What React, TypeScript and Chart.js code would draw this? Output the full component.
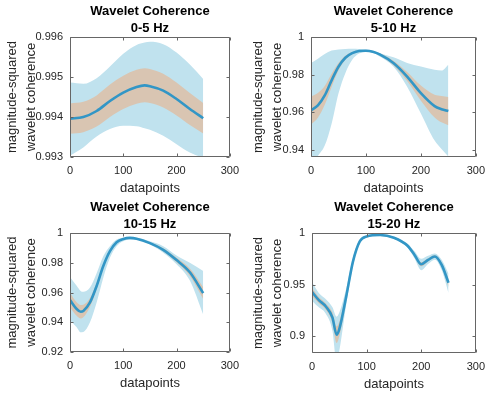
import React, { useEffect, useRef } from 'react';
import { Chart, registerables } from 'chart.js';

Chart.register(...registerables);

// ---------- shared axis data ----------
const xTicks = [0, 100, 200, 300];
const xTickLabels = ['0', '100', '200', '300'];
const xLabel = 'datapoints';
const yLabel = ['magnitude-squared', 'wavelet coherence'];

// ---------- panel 1: 0-5 Hz ----------
const title1 = ['Wavelet Coherence', '0-5 Hz'];
const xs1 = [0, 25, 50, 75, 100, 125, 140, 150, 175, 200, 225, 250];
const mean1 = [0.99396, 0.994, 0.99415, 0.9944, 0.99461, 0.99475, 0.99479, 0.99477, 0.99466, 0.99445, 0.9942, 0.99397];
const seUp1 = [0.99434, 0.99438, 0.99454, 0.99481, 0.99503, 0.99518, 0.99522, 0.9952, 0.99508, 0.99486, 0.9946, 0.99435];
const seLo1 = [0.99358, 0.99362, 0.99376, 0.994, 0.9942, 0.99433, 0.99437, 0.99435, 0.99424, 0.99404, 0.9938, 0.99359];
const sdUp1 = [0.99486, 0.99483, 0.99497, 0.99526, 0.99558, 0.9958, 0.99586, 0.99588, 0.99582, 0.99561, 0.99531, 0.99495];
const sdLo1 = [0.99303, 0.99324, 0.99351, 0.9937, 0.99378, 0.99377, 0.99372, 0.99368, 0.99353, 0.99332, 0.99311, 0.99298];
const yTicks1 = [0.993, 0.994, 0.995, 0.996];
const yTickLabels1 = ['0.993', '0.994', '0.995', '0.996'];
const yRange1 = [0.993, 0.996];

// ---------- panel 2: 5-10 Hz ----------
const title2 = ['Wavelet Coherence', '5-10 Hz'];
const xs2 = [0, 12.5, 25, 37.5, 50, 62.5, 75, 87.5, 100, 112.5, 125, 150, 175, 200, 225, 237.5, 250];
const mean2 = [0.961, 0.9637, 0.969, 0.977, 0.9842, 0.989, 0.9914, 0.9926, 0.9927, 0.9922, 0.9908, 0.9862, 0.979, 0.9702, 0.9633, 0.9617, 0.9607];
const seUp2 = [0.9685, 0.9703, 0.974, 0.9805, 0.9862, 0.9901, 0.992, 0.993, 0.9931, 0.9926, 0.9914, 0.9874, 0.9814, 0.9742, 0.9693, 0.9687, 0.9682];
const seLo2 = [0.9535, 0.9571, 0.964, 0.9735, 0.9822, 0.9879, 0.9908, 0.9922, 0.9923, 0.9918, 0.9902, 0.985, 0.9766, 0.9662, 0.9573, 0.9547, 0.9532];
const sdUp2 = [0.9862, 0.9885, 0.991, 0.9928, 0.9934, 0.9936, 0.9937, 0.9936, 0.9933, 0.9926, 0.9914, 0.9892, 0.9862, 0.9843, 0.9826, 0.9822, 0.9853];
const sdLo2 = [0.93, 0.9368, 0.9424, 0.954, 0.97, 0.9808, 0.9879, 0.9912, 0.9921, 0.9917, 0.9897, 0.9843, 0.9736, 0.9594, 0.945, 0.9405, 0.9365];
const yTicks2 = [0.94, 0.96, 0.98, 1];
const yTickLabels2 = ['0.94', '0.96', '0.98', '1'];
const yRange2 = [0.9363, 1];

// ---------- panel 3: 10-15 Hz ----------
const title3 = ['Wavelet Coherence', '10-15 Hz'];
const xs3 = [0, 12.5, 20, 25, 37.5, 50, 62.5, 75, 87.5, 100, 112.5, 125, 150, 175, 200, 225, 250];
const mean3 = [0.9549, 0.9489, 0.9471, 0.9476, 0.9533, 0.9644, 0.9778, 0.9878, 0.9938, 0.996, 0.9967, 0.9962, 0.9932, 0.9887, 0.9818, 0.9736, 0.9596];
const seUp3 = [0.9599, 0.9534, 0.9516, 0.9518, 0.9563, 0.9664, 0.979, 0.9886, 0.9943, 0.9964, 0.9971, 0.9966, 0.9938, 0.9897, 0.9833, 0.9761, 0.9636];
const seLo3 = [0.9499, 0.9444, 0.9426, 0.9434, 0.9503, 0.9624, 0.9766, 0.987, 0.9933, 0.9956, 0.9963, 0.9958, 0.9926, 0.9877, 0.9803, 0.9711, 0.9556];
const sdUp3 = [0.9704, 0.9645, 0.961, 0.9605, 0.9633, 0.9729, 0.9844, 0.9911, 0.9956, 0.9966, 0.9969, 0.9968, 0.9944, 0.9911, 0.9849, 0.98, 0.9744];
const sdLo3 = [0.9411, 0.9367, 0.9333, 0.9335, 0.94, 0.9533, 0.97, 0.9833, 0.9911, 0.9944, 0.9956, 0.9956, 0.9922, 0.9867, 0.979, 0.968, 0.9452];
const yTicks3 = [0.92, 0.94, 0.96, 0.98, 1];
const yTickLabels3 = ['0.92', '0.94', '0.96', '0.98', '1'];
const yRange3 = [0.92, 1];

// ---------- panel 4: 15-20 Hz ----------
const title4 = ['Wavelet Coherence', '15-20 Hz'];
const xs4 = [0, 12.5, 25, 37.5, 45, 50, 62.5, 75, 87.5, 100, 125, 150, 175, 187.5, 200, 212.5, 225, 237.5, 250];
const mean4 = [0.943, 0.935, 0.929, 0.918, 0.9015, 0.907, 0.9381, 0.9723, 0.9919, 0.9967, 0.998, 0.9954, 0.9876, 0.979, 0.9697, 0.9739, 0.9772, 0.9691, 0.9518];
const seUp4 = [0.947, 0.938, 0.932, 0.923, 0.9095, 0.914, 0.9421, 0.9743, 0.9929, 0.9972, 0.9984, 0.9959, 0.9886, 0.9805, 0.9717, 0.9754, 0.9784, 0.9711, 0.9558];
const seLo4 = [0.939, 0.932, 0.926, 0.913, 0.8935, 0.9, 0.9341, 0.9703, 0.9909, 0.9962, 0.9976, 0.9949, 0.9866, 0.9775, 0.9677, 0.9724, 0.976, 0.9671, 0.9478];
const sdUp4 = [0.9525, 0.942, 0.936, 0.928, 0.919, 0.923, 0.946, 0.9763, 0.9939, 0.9977, 0.9988, 0.9964, 0.9896, 0.9825, 0.975, 0.9779, 0.9802, 0.9741, 0.9605];
const sdLo4 = [0.9345, 0.928, 0.922, 0.905, 0.875, 0.886, 0.9301, 0.9683, 0.9899, 0.9957, 0.9972, 0.9944, 0.9856, 0.9755, 0.964, 0.9699, 0.9742, 0.9641, 0.942];
const yTicks4 = [0.9, 0.95, 1];
const yTickLabels4 = ['0.9', '0.95', '1'];
const yRange4 = [0.8838, 1];

// ---------- styles ----------
const FONT = "'Liberation Sans', Arial, Helvetica, sans-serif";
const TEXT = '#262626';
const AXIS = '#666666';
const LINE = 'rgb(50,150,198)';
const BLUE = 'rgb(192,226,238)';
const TAN = 'rgb(217,197,178)';

type PanelData = {
  title: string[]; xs: number[]; mean: number[]; seUp: number[]; seLo: number[];
  sdUp: number[]; sdLo: number[]; yTicks: number[]; yTickLabels: string[]; yRange: number[];
};
type Layout = { left: number; top: number; w: number; h: number; boxL: number; boxT: number; boxR: number; boxB: number };

const panels: { d: PanelData; l: Layout }[] = [
  { d: { title: title1, xs: xs1, mean: mean1, seUp: seUp1, seLo: seLo1, sdUp: sdUp1, sdLo: sdLo1, yTicks: yTicks1, yTickLabels: yTickLabels1, yRange: yRange1 },
    l: { left: 0, top: 0, w: 246, h: 197, boxL: 70, boxT: 37, boxR: 235, boxB: 157 } },
  { d: { title: title2, xs: xs2, mean: mean2, seUp: seUp2, seLo: seLo2, sdUp: sdUp2, sdLo: sdLo2, yTicks: yTicks2, yTickLabels: yTickLabels2, yRange: yRange2 },
    l: { left: 246, top: 0, w: 246, h: 197, boxL: 65, boxT: 37, boxR: 230, boxB: 157 } },
  { d: { title: title3, xs: xs3, mean: mean3, seUp: seUp3, seLo: seLo3, sdUp: sdUp3, sdLo: sdLo3, yTicks: yTicks3, yTickLabels: yTickLabels3, yRange: yRange3 },
    l: { left: 0, top: 197, w: 246, h: 200, boxL: 70, boxT: 36, boxR: 235, boxB: 155 } },
  { d: { title: title4, xs: xs4, mean: mean4, seUp: seUp4, seLo: seLo4, sdUp: sdUp4, sdLo: sdLo4, yTicks: yTicks4, yTickLabels: yTickLabels4, yRange: yRange4 },
    l: { left: 246, top: 197, w: 246, h: 200, boxL: 66, boxT: 36, boxR: 230, boxB: 156 } },
];

const X_AXIS_H = 40;

const framePlugin = {
  id: 'frame',
  afterDraw(chart: any, _args: any, opts: any) {
    const { ctx, chartArea: a, scales } = chart;
    ctx.save();
    ctx.strokeStyle = AXIS;
    ctx.lineWidth = 1;
    const L = Math.round(a.left) + 0.5;
    const R = Math.round(a.right) - 0.5;
    const T = Math.round(a.top) + 0.5;
    const B = Math.round(a.bottom) - 0.5;
    ctx.beginPath();
    ctx.rect(L, T, R - L, B - T);
    ctx.stroke();
    const tl = 3;
    ctx.beginPath();
    scales.x.ticks.forEach((t: any) => {
      const px = Math.round(scales.x.getPixelForValue(t.value)) + 0.5;
      ctx.moveTo(px, B); ctx.lineTo(px, B - tl);
      ctx.moveTo(px, T); ctx.lineTo(px, T + tl);
    });
    scales.y.ticks.forEach((t: any) => {
      const py = Math.round(scales.y.getPixelForValue(t.value)) + 0.5;
      ctx.moveTo(L, py); ctx.lineTo(L + tl, py);
      ctx.moveTo(R, py); ctx.lineTo(R - tl, py);
    });
    ctx.stroke();
    ctx.fillStyle = '#000';
    ctx.font = `bold 13px ${FONT}`;
    ctx.textAlign = 'center';
    ctx.textBaseline = 'middle';
    const cx = (a.left + a.right) / 2;
    ctx.fillText(opts.lines[0], cx, a.top - 25.3);
    ctx.fillText(opts.lines[1], cx, a.top - 8.7);
    ctx.restore();
  },
};

function makeConfig(d: PanelData, l: Layout): any {
  const pts = (ys: number[]) => d.xs.map((x, i) => ({ x, y: ys[i] }));
  const band = (ys: number[], fill: any, color: string) => ({
    data: pts(ys), borderColor: 'rgba(0,0,0,0)', borderWidth: 0, pointRadius: 0,
    fill, backgroundColor: color, cubicInterpolationMode: 'monotone',
  });
  return {
    type: 'line',
    data: {
      datasets: [
        { data: pts(d.mean), borderColor: LINE, borderWidth: 2.6, pointRadius: 0, fill: false, cubicInterpolationMode: 'monotone' },
        band(d.seUp, '+1', TAN),
        band(d.seLo, false, TAN),
        band(d.sdUp, '+1', BLUE),
        band(d.sdLo, false, BLUE),
      ],
    },
    plugins: [framePlugin],
    options: {
      responsive: false,
      animation: false,
      events: [],
      layout: { padding: { left: 0, top: l.boxT, right: l.w - l.boxR, bottom: l.h - l.boxB - X_AXIS_H } },
      plugins: {
        legend: { display: false },
        tooltip: { enabled: false },
        frame: { lines: d.title },
      },
      scales: {
        x: {
          type: 'linear', min: 0, max: 300,
          afterBuildTicks: (s: any) => { s.ticks = xTicks.map((v) => ({ value: v })); },
          afterFit: (s: any) => { s.height = X_AXIS_H; },
          grid: { display: false, drawTicks: false },
          border: { display: false },
          ticks: {
            font: { family: FONT, size: 11 }, color: TEXT, padding: 7, maxRotation: 0, autoSkip: false,
            callback: (v: any) => xTickLabels[xTicks.indexOf(v)] ?? '',
          },
          title: { display: true, text: xLabel, color: TEXT, font: { family: FONT, size: 13 }, padding: { top: 0, bottom: 1.2 } },
        },
        y: {
          type: 'linear', min: d.yRange[0], max: d.yRange[1],
          afterBuildTicks: (s: any) => { s.ticks = d.yTicks.map((v) => ({ value: v })); },
          afterFit: (s: any) => { s.width = l.boxL; },
          grid: { display: false, drawTicks: false },
          border: { display: false },
          ticks: {
            font: { family: FONT, size: 11 }, color: TEXT, padding: 7, autoSkip: false,
            callback: (v: any) => {
              const i = d.yTicks.findIndex((t) => Math.abs(t - v) < 1e-9);
              return i >= 0 ? d.yTickLabels[i] : '';
            },
          },
          title: { display: true, text: yLabel, color: TEXT, font: { family: FONT, size: 13, lineHeight: 1.46 }, padding: { top: 3.2, bottom: 0 } },
        },
      },
    },
  };
}

function Panel({ d, l }: { d: PanelData; l: Layout }) {
  const ref = useRef<HTMLCanvasElement>(null);
  useEffect(() => {
    const chart = new Chart(ref.current as HTMLCanvasElement, makeConfig(d, l));
    return () => chart.destroy();
  }, []);
  return (
    <canvas
      ref={ref}
      width={l.w}
      height={l.h}
      style={{ position: 'absolute', left: l.left, top: l.top, width: l.w, height: l.h }}
    />
  );
}

export default function App() {
  return (
    <div style={{ position: 'absolute', left: 0, top: 0, width: 492, height: 397, background: '#fff' }}>
      {panels.map((p, i) => (
        <Panel key={i} d={p.d} l={p.l} />
      ))}
    </div>
  );
}
